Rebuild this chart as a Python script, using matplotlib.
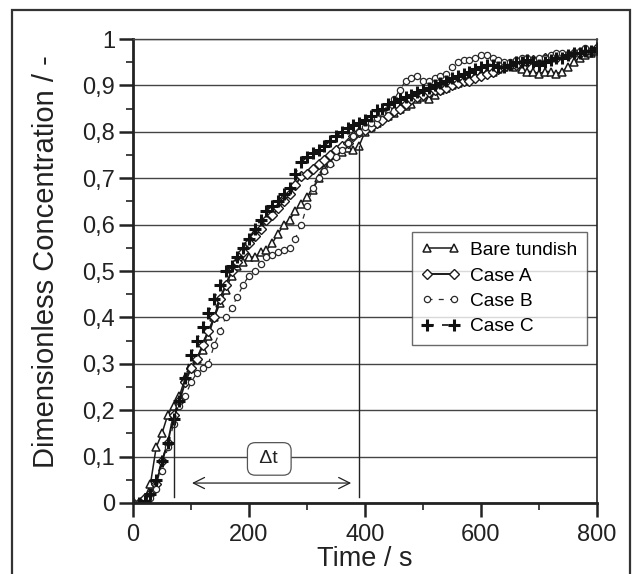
import numpy as np
import matplotlib
matplotlib.use('Agg')
import matplotlib.pyplot as plt
from matplotlib.ticker import MultipleLocator, FuncFormatter
from matplotlib.patches import Rectangle

plt.rcParams['font.family'] = ['Liberation Sans', 'DejaVu Sans']

# time axis shared by all four measurements (s)
time_s = list(range(0, 801, 10))

bare_tundish = [
    0, 0, 0.01, 0.04, 0.12, 0.15, 0.19, 0.21, 0.23, 0.27,
    0.29, 0.31, 0.33, 0.36, 0.40, 0.43, 0.46, 0.49, 0.51, 0.52,
    0.53, 0.53, 0.54, 0.545, 0.56, 0.58, 0.60, 0.61, 0.63, 0.645,
    0.66, 0.675, 0.70, 0.72, 0.735, 0.75, 0.757, 0.765, 0.76, 0.77,
    0.80, 0.81, 0.82, 0.83, 0.835, 0.84, 0.85, 0.855, 0.86, 0.87,
    0.875, 0.87, 0.88, 0.89, 0.895, 0.90, 0.905, 0.91, 0.915, 0.92,
    0.925, 0.93, 0.93, 0.935, 0.94, 0.945, 0.94, 0.935, 0.93, 0.93,
    0.925, 0.93, 0.93, 0.925, 0.93, 0.94, 0.95, 0.96, 0.965, 0.97,
    0.975]

case_a = [
    0, 0, 0.01, 0.02, 0.04, 0.09, 0.13, 0.19, 0.22, 0.26,
    0.29, 0.31, 0.34, 0.37, 0.40, 0.44, 0.47, 0.50, 0.52, 0.54,
    0.56, 0.575, 0.59, 0.61, 0.62, 0.635, 0.65, 0.665, 0.685, 0.705,
    0.71, 0.72, 0.73, 0.74, 0.75, 0.76, 0.77, 0.775, 0.79, 0.80,
    0.805, 0.81, 0.82, 0.825, 0.835, 0.845, 0.85, 0.86, 0.87, 0.875,
    0.88, 0.885, 0.89, 0.89, 0.895, 0.90, 0.905, 0.91, 0.91, 0.915,
    0.92, 0.925, 0.93, 0.935, 0.94, 0.945, 0.945, 0.95, 0.95, 0.955,
    0.955, 0.96, 0.96, 0.96, 0.965, 0.965, 0.97, 0.97, 0.975, 0.975,
    0.98]

case_b = [
    0, 0, 0, 0.01, 0.03, 0.07, 0.12, 0.17, 0.21, 0.23,
    0.26, 0.28, 0.29, 0.30, 0.34, 0.37, 0.40, 0.42, 0.445, 0.47,
    0.49, 0.50, 0.515, 0.53, 0.535, 0.54, 0.545, 0.55, 0.57, 0.60,
    0.64, 0.68, 0.70, 0.715, 0.73, 0.745, 0.76, 0.775, 0.79, 0.80,
    0.81, 0.82, 0.83, 0.84, 0.85, 0.87, 0.89, 0.91, 0.915, 0.92,
    0.91, 0.91, 0.915, 0.92, 0.925, 0.94, 0.95, 0.955, 0.955, 0.96,
    0.965, 0.965, 0.96, 0.955, 0.95, 0.95, 0.955, 0.96, 0.96, 0.955,
    0.96, 0.96, 0.965, 0.97, 0.97, 0.965, 0.97, 0.975, 0.98, 0.975,
    0.975]

case_c = [
    0, 0, 0.005, 0.02, 0.05, 0.09, 0.13, 0.18, 0.22, 0.27,
    0.32, 0.35, 0.38, 0.41, 0.44, 0.47, 0.50, 0.51, 0.53, 0.55,
    0.57, 0.59, 0.61, 0.63, 0.64, 0.65, 0.665, 0.68, 0.71, 0.735,
    0.745, 0.755, 0.76, 0.77, 0.78, 0.79, 0.80, 0.808, 0.815, 0.82,
    0.825, 0.835, 0.847, 0.85, 0.86, 0.865, 0.87, 0.875, 0.88, 0.885,
    0.89, 0.895, 0.90, 0.905, 0.91, 0.915, 0.92, 0.925, 0.93, 0.935,
    0.94, 0.945, 0.945, 0.94, 0.94, 0.945, 0.95, 0.95, 0.955, 0.95,
    0.945, 0.95, 0.955, 0.96, 0.96, 0.965, 0.97, 0.97, 0.975, 0.975,
    0.98]

# delta t markers
t_start = 70
t_end = 390
c_start = 0.183
c_end = 0.77

fig = plt.figure(figsize=(6.32, 5.74), dpi=100)
ax = fig.add_axes([0.2104, 0.1237, 0.7342, 0.8083])

ax.plot(time_s, bare_tundish, color='#1a1a1a', lw=1.1, ls='-',
        marker='^', ms=6, mfc='white', mec='#1a1a1a', mew=1.1, label='Bare tundish')
ax.plot(time_s, case_a, color='#1a1a1a', lw=1.4, ls='-',
        marker='D', ms=5.5, mfc='white', mec='#1a1a1a', mew=1.0, label='Case A')
ax.plot(time_s, case_b, color='#2a2a2a', lw=0.9, ls=(0, (4, 5)),
        marker='o', ms=4.5, mfc='white', mec='#2a2a2a', mew=0.9, label='Case B')
ax.plot(time_s, case_c, color='#111111', lw=1.2, ls=(0, (4, 5)),
        marker='+', ms=9, mec='#111111', mew=2.2, label='Case C')

ax.set_xlim(0, 800)
ax.set_ylim(0, 1)
ax.xaxis.set_major_locator(MultipleLocator(200))
ax.xaxis.set_minor_locator(MultipleLocator(100))
ax.yaxis.set_major_locator(MultipleLocator(0.1))
ax.yaxis.set_minor_locator(MultipleLocator(0.05))

def comma_fmt(v, pos):
    s = ('%.1f' % v).rstrip('0').rstrip('.')
    return s.replace('.', ',')

ax.yaxis.set_major_formatter(FuncFormatter(comma_fmt))
ax.tick_params(axis='both', which='major', direction='out', length=10, width=1.8,
               labelsize=17, color='#222222', labelcolor='#222222')
ax.tick_params(axis='both', which='minor', direction='out', length=5, width=1.2,
               color='#222222')
ax.tick_params(axis='y', which='major', pad=3)
ax.tick_params(axis='x', which='major', pad=5)

ax.grid(axis='y', which='major', color='#444444', lw=1.0)
ax.set_axisbelow(True)
for side in ['left', 'bottom']:
    ax.spines[side].set_linewidth(2.0)
    ax.spines[side].set_color('#222222')
ax.spines['right'].set_linewidth(1.2)
ax.spines['right'].set_color('#222222')
ax.spines['top'].set_linewidth(1.0)
ax.spines['top'].set_color('#444444')

ax.set_xlabel('Time / s', fontsize=19.5, color='#222222')
ax.set_ylabel('Dimensionless Concentration / -', fontsize=21, color='#222222')
ax.xaxis.set_label_coords(0.5, -0.092)
ax.yaxis.set_label_coords(-0.158, 0.52)

# delta t annotation
ax.plot([t_start, t_start], [0.013, c_start], color='#222222', lw=1.0)
ax.plot([t_end, t_end], [0.013, c_end], color='#222222', lw=1.0)
ax.annotate('', xy=(97, 0.043), xytext=(381, 0.043),
            arrowprops=dict(arrowstyle='<->', color='#222222', lw=0.9,
                            mutation_scale=20))
ax.text(235, 0.095, ' \u0394t ', fontsize=14, ha='center', va='center', color='#222222',
        bbox=dict(boxstyle='round,pad=0.4,rounding_size=0.4', fc='white',
                  ec='#555555', lw=0.9))

leg = ax.legend(loc='upper left', bbox_to_anchor=(0.601, 0.584), fontsize=13.8,
                frameon=True, fancybox=False, edgecolor='#444444', numpoints=2,
                handlelength=2.0, handletextpad=0.55, borderpad=0.5,
                labelspacing=0.42, borderaxespad=0)
leg.get_frame().set_linewidth(1.0)

# outer frame of the figure
fig.patches.append(Rectangle((12 / 632, -0.02), 618 / 632, 1.02 - 10 / 574,
                             transform=fig.transFigure, fill=False,
                             ec='#333333', lw=1.6))

fig.savefig('out.png', dpi=100)
